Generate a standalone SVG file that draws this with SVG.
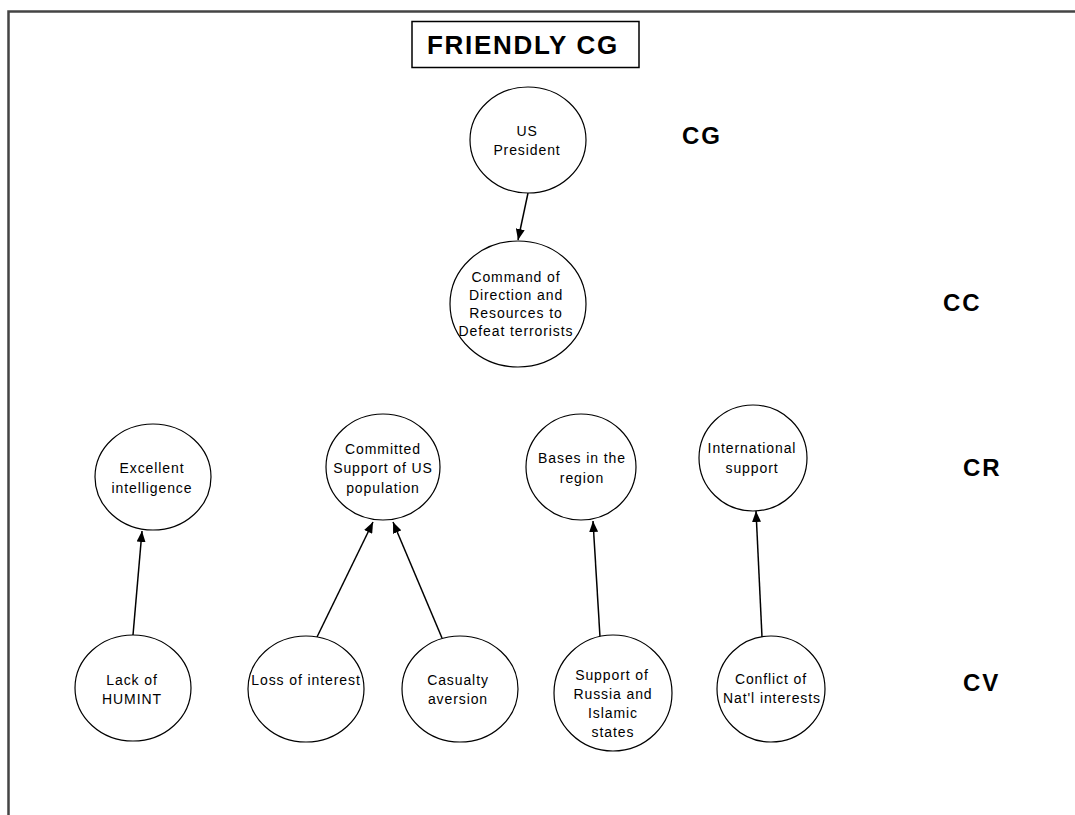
<svg xmlns="http://www.w3.org/2000/svg" width="1075" height="815" viewBox="0 0 1075 815">
<defs>
<style>
.node ellipse{fill:#fff;stroke:#000;stroke-width:1.2}
.node text{font-family:"Liberation Sans",Arial,sans-serif;font-size:14px;letter-spacing:0.9px;text-anchor:middle;fill:#000}
.lvl{font-family:"Liberation Sans",Arial,sans-serif;font-size:24px;font-weight:bold;letter-spacing:2px;fill:#000}
.conn line{stroke:#000;stroke-width:1.5;marker-end:url(#arr)}
</style>
<marker id="arr" viewBox="0 0 11 9" refX="11" refY="4.5" markerWidth="11" markerHeight="9" markerUnits="userSpaceOnUse" orient="auto">
<path d="M0,0 L11,4.5 L0,9 Z" fill="#000"/>
</marker>
</defs>
<rect x="0" y="0" width="1075" height="815" fill="#fff"/>
<g id="frame">
<path d="M8.5,815 V11.5 H1075" fill="none" stroke="#444" stroke-width="2.5"/>
</g>
<g id="title">
<rect x="412" y="21.5" width="227" height="46" fill="#fff" stroke="#000" stroke-width="1.5"/>
<text x="523" y="54" font-family="'Liberation Sans',Arial,sans-serif" font-size="26" font-weight="bold" letter-spacing="1.7" text-anchor="middle">FRIENDLY CG</text>
</g>
<g id="labels">
<text class="lvl" x="682" y="144">CG</text>
<text class="lvl" x="943" y="311">CC</text>
<text class="lvl" x="963" y="476">CR</text>
<text class="lvl" x="963" y="691">CV</text>
</g>
<g id="connectors" class="conn">
<line x1="528" y1="193" x2="518" y2="240"/>
<line x1="133" y1="635" x2="142" y2="531"/>
<line x1="317" y1="637" x2="373" y2="522"/>
<line x1="442" y1="638" x2="393" y2="522"/>
<line x1="600" y1="637" x2="593" y2="521"/>
<line x1="762" y1="637" x2="756" y2="511"/>
</g>
<g id="n-president" class="node">
<ellipse cx="528" cy="140" rx="58" ry="53"/>
<text x="527" y="136">US</text>
<text x="527" y="155">President</text>
</g>
<g id="n-command" class="node">
<ellipse cx="518" cy="304" rx="68" ry="63"/>
<text x="516" y="282">Command of</text>
<text x="516" y="300">Direction and</text>
<text x="516" y="318">Resources to</text>
<text x="516" y="336">Defeat terrorists</text>
</g>
<g id="n-intel" class="node">
<ellipse cx="153" cy="477" rx="58" ry="53"/>
<text x="152" y="473">Excellent</text>
<text x="152" y="493">intelligence</text>
</g>
<g id="n-committed" class="node">
<ellipse cx="383" cy="467" rx="57" ry="53"/>
<text x="383" y="454">Committed</text>
<text x="383" y="473">Support of US</text>
<text x="383" y="493">population</text>
</g>
<g id="n-bases" class="node">
<ellipse cx="581" cy="467" rx="55" ry="53"/>
<text x="582" y="463">Bases in the</text>
<text x="582" y="483">region</text>
</g>
<g id="n-intl" class="node">
<ellipse cx="753" cy="458" rx="54" ry="53"/>
<text x="752" y="453">International</text>
<text x="752" y="473">support</text>
</g>
<g id="n-humint" class="node">
<ellipse cx="133" cy="688" rx="58" ry="53"/>
<text x="132" y="685">Lack of</text>
<text x="132" y="704">HUMINT</text>
</g>
<g id="n-loss" class="node">
<ellipse cx="306" cy="689" rx="58" ry="53"/>
<text x="306" y="685">Loss of interest</text>
</g>
<g id="n-casualty" class="node">
<ellipse cx="460" cy="689" rx="58" ry="53"/>
<text x="458" y="685">Casualty</text>
<text x="458" y="704">aversion</text>
</g>
<g id="n-russia" class="node">
<ellipse cx="613" cy="693" rx="59" ry="58"/>
<text x="612" y="680">Support of</text>
<text x="613" y="699">Russia and</text>
<text x="613" y="718">Islamic</text>
<text x="613" y="737">states</text>
</g>
<g id="n-conflict" class="node">
<ellipse cx="771" cy="689" rx="54" ry="53"/>
<text x="771" y="684">Conflict of</text>
<text x="772" y="703">Nat'l interests</text>
</g>
</svg>
